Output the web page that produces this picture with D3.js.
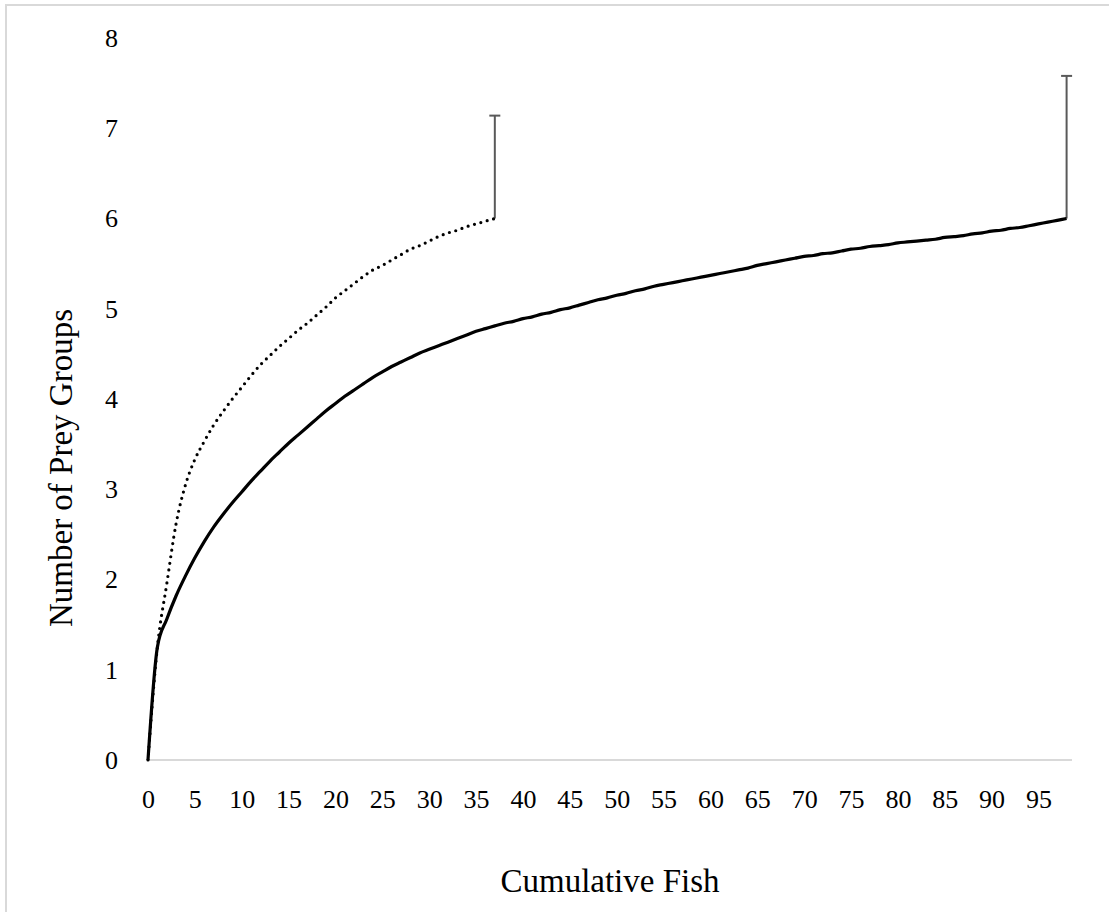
<!DOCTYPE html>
<html>
<head>
<meta charset="utf-8">
<script src="https://cdn.jsdelivr.net/npm/d3@7"></script>
<style>
  html, body { margin: 0; padding: 0; background: #ffffff; }
  svg { display: block; }
  text { font-family: "Liberation Serif", "DejaVu Serif", serif; fill: #000; }
</style>
</head>
<body>
<svg id="chart" width="1109" height="912"></svg>
<script>
// Cumulative fish sampled (x categories)
const fishAll = d3.range(0, 99);
const fishSubset = d3.range(0, 38);

// Rarefaction curve, all fish (solid line)
const preyAll = [
  0.00, 1.25, 1.56, 1.82, 2.04, 2.24, 2.42, 2.58, 2.72, 2.85,
  2.97, 3.09, 3.20, 3.31, 3.41, 3.51, 3.60, 3.69, 3.78, 3.87,
  3.95, 4.03, 4.10, 4.17, 4.24, 4.30, 4.36, 4.41, 4.46, 4.51,
  4.55, 4.59, 4.63, 4.67, 4.71, 4.75, 4.78, 4.81, 4.84, 4.86,
  4.89, 4.91, 4.94, 4.96, 4.99, 5.01, 5.04, 5.07, 5.10, 5.12,
  5.15, 5.17, 5.20, 5.22, 5.25, 5.27, 5.29, 5.31, 5.33, 5.35,
  5.37, 5.39, 5.41, 5.43, 5.45, 5.48, 5.50, 5.52, 5.54, 5.56,
  5.58, 5.59, 5.61, 5.62, 5.64, 5.66, 5.67, 5.69, 5.70, 5.71,
  5.73, 5.74, 5.75, 5.76, 5.77, 5.79, 5.80, 5.81, 5.83, 5.84,
  5.86, 5.87, 5.89, 5.90, 5.92, 5.94, 5.96, 5.98, 6.00
];

// Rarefaction curve, subset (dotted line)
const preySubset = [
  0.00, 1.25, 1.95, 2.62, 3.05, 3.33, 3.53, 3.71, 3.86, 4.00,
  4.13, 4.26, 4.38, 4.48, 4.58, 4.67, 4.76, 4.84, 4.93, 5.02,
  5.12, 5.20, 5.28, 5.36, 5.43, 5.48, 5.54, 5.60, 5.66, 5.70,
  5.75, 5.80, 5.84, 5.87, 5.91, 5.94, 5.97, 6.00
];

// Positive error bars at the last point of each curve
const errorBars = [
  { fish: 37, prey: 6.00, plus: 1.14 },
  { fish: 98, prey: 6.00, plus: 1.58 }
];

const xTickLabels = ["0","5","10","15","20","25","30","35","40","45",
                     "50","55","60","65","70","75","80","85","90","95"];
const yTickLabels = ["0","1","2","3","4","5","6","7","8"];

const xTitle = "Cumulative Fish";
const yTitle = "Number of Prey Groups";

// Layout
const plot = { left: 148, right: 1072, top: 38, bottom: 760 };
const lastPointX = 1066.6;

const svg = d3.select("#chart");

// Chart frame
svg.append("rect")
  .attr("x", 6).attr("y", 5)
  .attr("width", 1140).attr("height", 940)
  .attr("fill", "none")
  .attr("stroke", "#d9d9d9")
  .attr("stroke-width", 2);

const x = d3.scaleLinear().domain([0, 98]).range([plot.left, lastPointX]);
const y = d3.scaleLinear().domain([0, 8]).range([plot.bottom, plot.top]);

// Horizontal axis line
svg.append("line")
  .attr("x1", plot.left).attr("x2", plot.right)
  .attr("y1", y(0)).attr("y2", y(0))
  .attr("stroke", "#d9d9d9")
  .attr("stroke-width", 2.2);

// X axis tick labels
const xAxis = d3.axisBottom(x)
  .tickValues(xTickLabels.map(Number))
  .tickFormat((d, i) => xTickLabels[i])
  .tickSize(0)
  .tickPadding(30);

const gx = svg.append("g")
  .attr("transform", `translate(0,${y(0)})`)
  .call(xAxis);
gx.select(".domain").remove();
gx.selectAll("text")
  .attr("font-family", "Liberation Serif, serif")
  .attr("font-size", 26)
  .attr("fill", "#000");

// Y axis tick labels
const yAxis = d3.axisLeft(y)
  .tickValues(yTickLabels.map(Number))
  .tickFormat((d, i) => yTickLabels[i])
  .tickSize(0)
  .tickPadding(30);

const gy = svg.append("g")
  .attr("transform", `translate(${plot.left},0)`)
  .call(yAxis);
gy.select(".domain").remove();
gy.selectAll("text")
  .attr("font-family", "Liberation Serif, serif")
  .attr("font-size", 26)
  .attr("fill", "#000");

// Axis titles
svg.append("text")
  .attr("x", (plot.left + plot.right) / 2)
  .attr("y", 892)
  .attr("text-anchor", "middle")
  .attr("font-size", 33)
  .text(xTitle);

svg.append("text")
  .attr("transform", `translate(72,468) rotate(-90)`)
  .attr("text-anchor", "middle")
  .attr("font-size", 33)
  .text(yTitle);

// Smoothed lines
const line = d3.line()
  .curve(d3.curveMonotoneX)
  .x(d => x(d[0]))
  .y(d => y(d[1]));

// Error bars (drawn beneath the curves)
const eb = svg.append("g")
  .attr("stroke", "#595959")
  .attr("stroke-width", 2)
  .attr("fill", "none");

eb.selectAll("line.stem")
  .data(errorBars)
  .join("line")
  .attr("class", "stem")
  .attr("x1", d => x(d.fish)).attr("x2", d => x(d.fish))
  .attr("y1", d => y(d.prey)).attr("y2", d => y(d.prey + d.plus));

eb.selectAll("line.cap")
  .data(errorBars)
  .join("line")
  .attr("class", "cap")
  .attr("x1", d => x(d.fish) - 5.5).attr("x2", d => x(d.fish) + 5.5)
  .attr("y1", d => y(d.prey + d.plus)).attr("y2", d => y(d.prey + d.plus));

// Subset curve (dotted)
svg.append("path")
  .datum(fishSubset.map((f, i) => [f, preySubset[i]]))
  .attr("d", line)
  .attr("fill", "none")
  .attr("stroke", "#000")
  .attr("stroke-width", 3.2)
  .attr("stroke-linecap", "round")
  .attr("stroke-dasharray", "0 6.6");

// All-fish curve (solid)
svg.append("path")
  .datum(fishAll.map((f, i) => [f, preyAll[i]]))
  .attr("d", line)
  .attr("fill", "none")
  .attr("stroke", "#000")
  .attr("stroke-width", 3.2)
  .attr("stroke-linejoin", "round");
</script>
</body>
</html>
